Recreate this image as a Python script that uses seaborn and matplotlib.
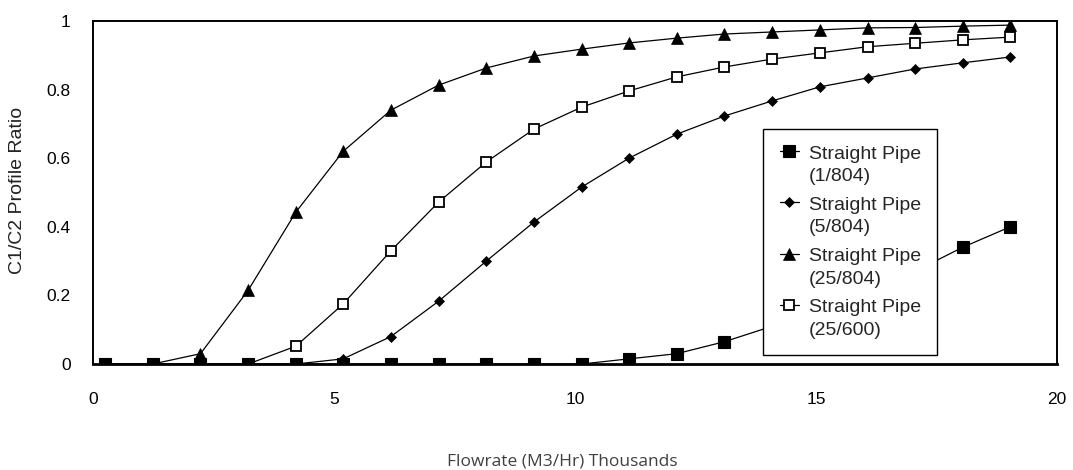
import numpy as np
import pandas as pd
import seaborn as sns
import matplotlib.pyplot as plt
from matplotlib.legend_handler import HandlerLine2D
from matplotlib.lines import Line2D

# flowrate (thousands of M3/Hr), one reading per point
flow = [0.25, 1.24, 2.23, 3.22, 4.21, 5.19, 6.18, 7.17, 8.16, 9.15,
        10.14, 11.12, 12.11, 13.10, 14.09, 15.08, 16.07, 17.05, 18.04, 19.03]

sp_1_804 = [0, 0, 0, 0, 0, 0, 0, 0, 0, 0,
            0, 0.015, 0.03, 0.065, 0.11, 0.16, 0.21, 0.27, 0.34, 0.40]
sp_5_804 = [0, 0, 0, 0, 0, 0.015, 0.08, 0.183, 0.30, 0.414,
            0.516, 0.60, 0.67, 0.723, 0.767, 0.808, 0.834, 0.86, 0.878, 0.895]
sp_25_804 = [0, 0, 0.03, 0.215, 0.443, 0.62, 0.74, 0.813, 0.863, 0.898,
             0.918, 0.936, 0.95, 0.962, 0.968, 0.974, 0.98, 0.981, 0.985, 0.988]
sp_25_600 = [0, 0, 0, 0, 0.052, 0.175, 0.33, 0.472, 0.589, 0.685,
             0.749, 0.796, 0.837, 0.866, 0.889, 0.907, 0.925, 0.935, 0.945, 0.953]

labels = ['Straight Pipe\n(1/804)', 'Straight Pipe\n(5/804)',
          'Straight Pipe\n(25/804)', 'Straight Pipe\n(25/600)']
x_ticks = [0, 5, 10, 15, 20]
y_ticks = [0, 0.2, 0.4, 0.6, 0.8, 1]

sns.set_style('white')
plt.rcParams['font.family'] = ['Liberation Sans', 'DejaVu Sans']

df = pd.DataFrame({'flow': flow, 's1': sp_1_804, 's5': sp_5_804,
                   's25': sp_25_804, 's600': sp_25_600})

fig = plt.figure(figsize=(10.73, 4.70), dpi=100)
ax = fig.add_axes([93 / 1073, 106 / 470, 964 / 1073, 343 / 470])

# marker style per series: (column, label, marker kwargs, zorder)
styles = [
    ('s5', labels[1], dict(marker='D', ms=5.2, mfc='black', mec='black', mew=0.5), 3),
    ('s25', labels[2], dict(marker='^', ms=8, mfc='black', mec='black', mew=0.5), 3),
    ('s600', labels[3], dict(marker='s', ms=7, mfc='white', mec='black', mew=1.3), 3),
    ('s1', labels[0], dict(marker='s', ms=8, mfc='black', mec='black', mew=0.8), 4),
]
handles = {}
for col, lab, mk, z in styles:
    sns.lineplot(data=df, x='flow', y=col, ax=ax, color='black', lw=0.9,
                 sort=False, estimator=None, zorder=z, **mk)
    handles[lab] = Line2D([], [], color='black', lw=0.9, **mk)

ax.set_xlim(0, 20)
ax.set_ylim(0, 1)
ax.set_xticks(x_ticks)
ax.set_xticklabels([str(t) for t in x_ticks])
ax.set_yticks(y_ticks)
ax.set_yticklabels([f'{t:g}' for t in y_ticks])
ax.tick_params(axis='x', direction='in', length=9.5, width=1.2, pad=20,
               labelsize=12.5, colors='black')
ax.tick_params(axis='y', direction='in', length=10, width=1.2, pad=16,
               labelsize=12.5, colors='black')

for side, sp in ax.spines.items():
    sp.set_visible(True)
    sp.set_color('black')
    sp.set_linewidth(2.0 if side == 'bottom' else 1.4)
    sp.set_zorder(6)

ax.set_ylabel('C1/C2 Profile Ratio', fontsize=14, color='#222222')
ax.yaxis.set_label_coords(-0.069, 0.507)
ax.set_xlabel('Flowrate (M3/Hr) Thousands', fontsize=12.5, color='#404040',
              family=['Open Sans', 'DejaVu Sans'])
ax.xaxis.set_label_coords(0.4865, -0.262)
ax.xaxis.label.set_va('top')


class TopLineHandler(HandlerLine2D):
    # put the marker next to the first text line instead of the middle
    def create_artists(self, legend, orig_handle, xdescent, ydescent,
                       width, height, fontsize, trans):
        arts = super().create_artists(legend, orig_handle, xdescent, ydescent,
                                      width, height, fontsize, trans)
        for a in arts:
            a.set_ydata(np.asarray(a.get_ydata()) + 0.72 * fontsize)
        return arts


leg = ax.legend([handles[l] for l in labels], labels,
                loc='upper left', bbox_to_anchor=(0.695, 0.685),
                borderaxespad=0, frameon=True, fancybox=False,
                edgecolor='black', framealpha=1, fontsize=14,
                borderpad=0.85, handlelength=1.0, handletextpad=0.5,
                labelspacing=0.6,
                handler_map={Line2D: TopLineHandler()})
for t in leg.get_texts():
    t.set_linespacing(1.43)
leg.get_frame().set_linewidth(1.0)
leg.set_zorder(7)

fig.savefig('out.png', dpi=100)
